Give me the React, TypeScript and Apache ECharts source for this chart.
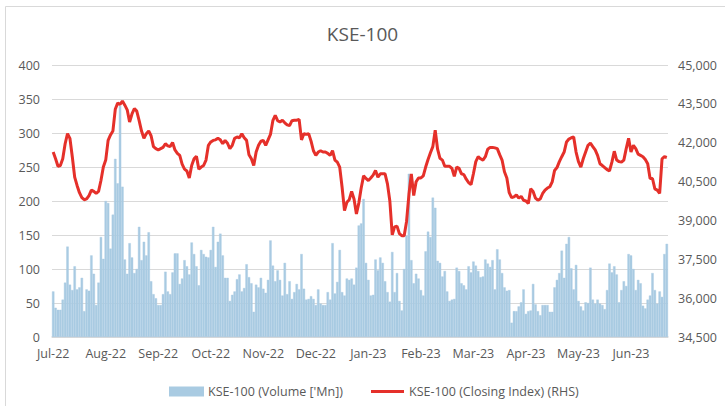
import React, { useEffect, useRef } from "react";
import * as echarts from "echarts";

// Block labels (every 22 trading sessions)
const monthLabels = ["Jul-22", "Aug-22", "Sep-22", "Oct-22", "Nov-22", "Dec-22", "Jan-23", "Feb-23", "Mar-23", "Apr-23", "May-23", "Jun-23"];

// Volume (Mn shares), per session
const volJul = [67, 43, 40, 40, 55, 80, 133, 77, 69, 104, 70, 73, 87, 38, 70, 68, 120, 93, 47, 80, 147, 115];
const volAug = [200, 197, 130, 180, 262, 226, 340, 221, 114, 93, 138, 117, 94, 100, 162, 113, 140, 120, 154, 82, 63, 57];
const volSep = [47, 47, 63, 96, 67, 63, 95, 123, 123, 78, 86, 113, 104, 92, 139, 122, 104, 76, 128, 122, 118, 117];
const volOct = [128, 162, 103, 140, 152, 120, 87, 87, 53, 62, 67, 85, 92, 67, 72, 107, 88, 79, 37, 77, 73, 87];
const volNov = [71, 65, 84, 142, 105, 82, 98, 84, 61, 109, 63, 82, 56, 66, 78, 70, 122, 71, 55, 56, 60, 56];
const volDec = [47, 70, 49, 47, 47, 66, 55, 138, 64, 81, 128, 66, 61, 86, 84, 86, 77, 102, 164, 167, 203, 109];
const volJan = [84, 61, 62, 114, 98, 117, 109, 82, 66, 52, 125, 66, 94, 53, 39, 100, 149, 240, 113, 79, 93, 86];
const volFeb = [69, 61, 126, 155, 147, 205, 190, 112, 109, 89, 97, 67, 53, 55, 56, 102, 97, 79, 76, 70, 104, 95];
const volMar = [111, 105, 97, 88, 89, 114, 108, 103, 113, 70, 129, 114, 94, 73, 68, 69, 21, 38, 38, 45, 51, 70];
const volApr = [34, 38, 39, 78, 48, 38, 32, 47, 47, 47, 37, 37, 73, 84, 94, 127, 87, 137, 147, 101, 70, 106];
const volMay = [53, 45, 39, 51, 50, 102, 55, 49, 55, 49, 47, 41, 69, 108, 95, 104, 92, 51, 69, 82, 75, 122];
const volJun = [120, 100, 69, 84, 79, 46, 42, 55, 61, 94, 69, 49, 67, 59, 122, 137];

// Closing index, per session
const closeJul = [41640, 41380, 41090, 41120, 41380, 41960, 42350, 42170, 41460, 40670, 40350, 40070, 39880, 39800, 39830, 39960, 40170, 40120, 40040, 40120, 40540, 41060];
const closeAug = [41330, 42090, 42300, 42450, 43290, 43530, 43480, 43610, 43450, 43270, 42800, 43110, 43320, 43220, 42850, 42450, 42170, 42350, 42450, 42270, 41850, 41770];
const closeSep = [41720, 41770, 41820, 41960, 41880, 41850, 42010, 41720, 41590, 41510, 41170, 40980, 40910, 40640, 41120, 41380, 41480, 40980, 41060, 41120, 41330, 41900];
const closeOct = [42030, 42090, 42110, 42170, 42110, 41960, 42090, 41980, 41770, 41900, 42170, 42220, 42190, 42350, 42190, 42090, 41540, 41380, 41120, 41640, 41900, 42060];
const closeNov = [42090, 41900, 42110, 42320, 42850, 43060, 42850, 42800, 42870, 42770, 42690, 42660, 42850, 42870, 42870, 42900, 42110, 42350, 42320, 42350, 42060, 41690];
const closeDec = [41510, 41640, 41690, 41640, 41640, 41590, 41510, 41690, 41330, 41250, 41060, 40280, 39380, 39700, 39800, 40120, 39830, 39250, 39670, 40250, 40720, 40620];
const closeJan = [40540, 40640, 40750, 40930, 40670, 40800, 40800, 40800, 40410, 39750, 38440, 38750, 38780, 38490, 38410, 38410, 38960, 40010, 40800, 39960, 40490, 40640];
const closeFeb = [40640, 40720, 41060, 41350, 41610, 41850, 42480, 41750, 41400, 41330, 41090, 41090, 41090, 41010, 40700, 41060, 41010, 40800, 40770, 40590, 40460, 40380];
const closeMar = [40800, 41270, 41460, 41380, 41330, 41460, 41750, 41820, 41820, 41800, 41770, 41540, 41330, 40880, 40640, 40070, 39880, 39910, 39990, 39860, 39930, 39780];
const closeApr = [39750, 39650, 40220, 40120, 39860, 39780, 39830, 40040, 40170, 40250, 40300, 40490, 40930, 41040, 41270, 41460, 41640, 42030, 42140, 42190, 42220, 41640];
const closeMay = [41270, 41060, 41380, 41640, 41900, 41980, 41850, 41720, 41510, 41190, 41120, 41040, 40960, 40910, 41250, 41670, 41330, 41270, 41250, 41330, 41770, 42170];
const closeJun = [41640, 41900, 41770, 41560, 41510, 41460, 41350, 41190, 40620, 40620, 40220, 40170, 40040, 41380, 41460, 41430];

const leftTicks = { min: 0, max: 400, interval: 50 };
const rightTicks = { min: 34500, max: 45000, interval: 1500 };

const volBlocks = [volJul, volAug, volSep, volOct, volNov, volDec, volJan, volFeb, volMar, volApr, volMay, volJun];
const closeBlocks = [closeJul, closeAug, closeSep, closeOct, closeNov, closeDec, closeJan, closeFeb, closeMar, closeApr, closeMay, closeJun];

const categories: string[] = [];
volBlocks.forEach((blk, m) => blk.forEach((_, j) => categories.push(`${monthLabels[m]}#${j + 1}`)));
const volume = volBlocks.flat();
const closing = closeBlocks.flat();

const BAR_NAME = "KSE-100 (Volume ['Mn])";
const LINE_NAME = "KSE-100 (Closing Index) (RHS)";
const FONT = "'Open Sans', sans-serif";
const TXT = "#595959";
const RED = "#e5302a";
const BLUE = "#a9cbe2";

export default function App() {
  const ref = useRef<HTMLDivElement>(null);
  useEffect(() => {
    if (!ref.current) return;
    const chart = echarts.init(ref.current, undefined, { renderer: "svg" });
    chart.setOption({
      animation: false,
      backgroundColor: "#ffffff",
      textStyle: { fontFamily: FONT },
      title: {
        text: "KSE-100",
        left: "center",
        top: 19,
        textStyle: { fontFamily: FONT, fontSize: 19, fontWeight: "normal", color: TXT },
      },
      graphic: [
        {
          type: "rect",
          shape: { x: 5.5, y: 6.5, width: 760, height: 440 },
          style: { fill: "none", stroke: "#d9d9d9", lineWidth: 1 },
          silent: true,
        },
      ],
      grid: { left: 52, right: 57, top: 65, bottom: 69 },
      legend: {
        left: 164,
        top: 380,
        itemGap: 28,
        itemWidth: 33,
        itemHeight: 8,
        textStyle: { fontFamily: FONT, fontSize: 12.5, color: TXT },
        data: [
          { name: BAR_NAME, icon: "rect" },
          { name: LINE_NAME, icon: "path://M0,0H33V3H0Z", itemStyle: { color: RED } },
        ],
      },
      xAxis: {
        type: "category",
        data: categories,
        boundaryGap: true,
        axisLine: { lineStyle: { color: "#d9d9d9", width: 1.5 } },
        axisTick: { show: false },
        axisLabel: {
          interval: (_i: number, v: string) => v.endsWith("#1"),
          formatter: (v: string) => v.split("#")[0],
          color: TXT,
          fontFamily: FONT,
          fontSize: 12.5,
          margin: 10,
        },
        splitLine: { show: false },
      },
      yAxis: [
        {
          type: "value",
          ...leftTicks,
          axisLine: { show: false },
          axisTick: { show: false },
          axisLabel: { color: TXT, fontFamily: FONT, fontSize: 12.5, margin: 12 },
          splitLine: { lineStyle: { color: "#d9d9d9", width: 1 } },
        },
        {
          type: "value",
          ...rightTicks,
          axisLine: { show: false },
          axisTick: { show: false },
          axisLabel: {
            color: TXT,
            fontFamily: FONT,
            fontSize: 12.5,
            margin: 10,
            formatter: (v: number) => v.toLocaleString("en-US"),
          },
          splitLine: { show: false },
        },
      ],
      series: [
        {
          name: BAR_NAME,
          type: "bar",
          data: volume,
          yAxisIndex: 0,
          barCategoryGap: "0%",
          itemStyle: { color: BLUE, borderColor: BLUE, borderWidth: 0.4 },
        },
        {
          name: LINE_NAME,
          type: "line",
          data: closing,
          yAxisIndex: 1,
          symbol: "none",
          smooth: false,
          lineStyle: { color: RED, width: 3 },
          itemStyle: { color: RED },
        },
      ],
    });
    return () => chart.dispose();
  }, []);
  return (
    <div
      ref={ref}
      style={{ position: "fixed", left: 0, top: 0, width: 725, height: 406, background: "#fff" }}
    />
  );
}
